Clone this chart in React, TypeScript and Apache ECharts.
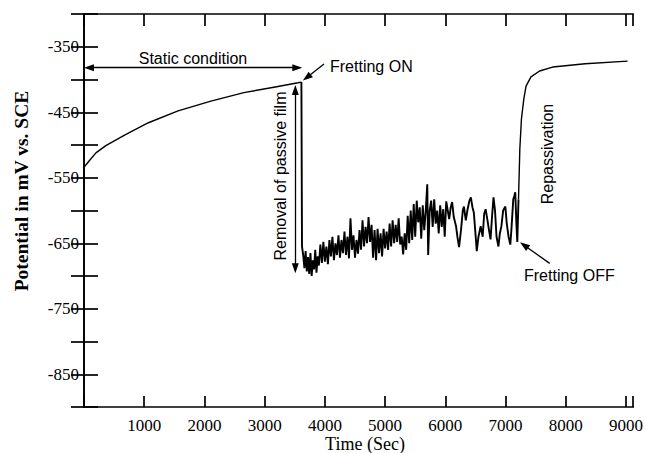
import React, { useEffect, useRef } from 'react';
import * as echarts from 'echarts';

// Static (before fretting)
const staticTime = [0, 88, 198, 362, 689, 1070, 1562, 2107, 2654, 3199, 3554, 3610];
const staticPotential = [-534, -524, -512, -501, -484, -466, -448, -433, -420, -411, -405, -404];

// During fretting
const frettingTime = [
  3620, 3640, 3660, 3680, 3700, 3720, 3740, 3760, 3780, 3800, 3820, 3840, 3860, 3880, 3900, 3925, 3950, 3975,
  4000, 4025, 4050, 4075, 4100, 4125, 4150, 4175, 4200, 4225, 4250, 4275, 4300, 4325, 4350, 4375, 4400, 4425,
  4450, 4475, 4500, 4525, 4550, 4575, 4600, 4625, 4650, 4675, 4700, 4725, 4750, 4775, 4800, 4825, 4850, 4875,
  4900, 4925, 4950, 4975, 5000, 5025, 5050, 5075, 5100, 5125, 5150, 5175, 5200, 5225, 5250, 5275, 5300, 5325,
  5350, 5375, 5400, 5425, 5450, 5475, 5500, 5525, 5550, 5575, 5600, 5625, 5650, 5675, 5700, 5715, 5740, 5765,
  5790, 5815, 5840, 5865, 5890, 5915, 5940, 5965, 5990, 6015, 6040, 6064, 6090, 6113, 6140, 6178, 6200, 6228,
  6260, 6290, 6309, 6340, 6370, 6400, 6424, 6450, 6473, 6500, 6522, 6550, 6587, 6620, 6645, 6669, 6700, 6725,
  6751, 6775, 6800, 6825, 6850, 6882, 6905, 6931, 6960, 6997, 7020, 7050, 7079, 7100, 7128, 7145, 7161, 7180,
  7195,
];
const frettingPotential = [
  -655, -668, -688, -662, -693, -671, -697, -665, -700, -676, -690, -660, -695, -670, -684, -652, -680, -648,
  -678, -655, -682, -645, -670, -640, -676, -650, -668, -638, -672, -645, -665, -632, -668, -640, -673, -612,
  -660, -638, -672, -645, -666, -630, -660, -615, -655, -625, -650, -610, -648, -622, -672, -630, -676, -628,
  -665, -635, -670, -628, -658, -632, -660, -620, -655, -615, -650, -622, -648, -612, -652, -640, -667, -635,
  -660, -608, -650, -600, -645, -590, -640, -585, -618, -595, -643, -592, -630, -600, -560, -668, -600, -585,
  -625, -583, -620, -600, -635, -592, -625, -598, -640, -586, -600, -613, -595, -587, -610, -624, -640, -656,
  -630, -600, -594, -615, -598, -585, -580, -595, -603, -635, -662, -640, -624, -640, -605, -598, -615, -630,
  -644, -610, -580, -600, -640, -655, -635, -624, -600, -594, -620, -640, -652, -625, -583, -578, -572, -620,
  -648,
];

// Repassivation (after fretting off)
const repassTime = [7215, 7237, 7264, 7303, 7340, 7422, 7565, 7782, 8322, 9026];
const repassPotential = [-583, -506, -460, -430, -410, -396, -387, -381, -376, -372];

const serif = 'Liberation Serif';
const sans = 'Liberation Sans';

export default function App() {
  const ref = useRef<HTMLDivElement>(null);

  useEffect(() => {
    const chart = echarts.init(ref.current as HTMLDivElement, null, { renderer: 'svg' });
    const staticData = staticTime.map((t, i) => [t, staticPotential[i]]);
    const frettingData = frettingTime.map((t, i) => [t, frettingPotential[i]]);
    const repassData = repassTime.map((t, i) => [t, repassPotential[i]]);
    const frettingSeg = [staticData[staticData.length - 1], ...frettingData, repassData[0]];

    const axisLine = { show: true, lineStyle: { color: '#000', width: 1.7 } };
    const tri = 'triangle';
    const arrowSize = [7, 10];

    chart.setOption({
      animation: false,
      backgroundColor: '#fff',
      grid: { left: 84, right: 4, top: 14, bottom: 46, containLabel: false },
      xAxis: [
        {
          type: 'value',
          position: 'bottom',
          min: 0,
          max: 9120,
          interval: 1000,
          axisLine,
          axisTick: { show: true, inside: true, length: 11, lineStyle: { color: '#000', width: 1.7 } },
          axisLabel: {
            color: '#000',
            fontFamily: serif,
            fontSize: 17,
            margin: 10,
            formatter: (v: number) => (v > 0 && v % 1000 === 0 ? String(v) : ''),
          },
          splitLine: { show: false },
        },
        {
          type: 'value',
          position: 'top',
          min: 0,
          max: 9120,
          interval: 1000,
          axisLine,
          axisTick: { show: true, inside: true, length: 12, lineStyle: { color: '#000', width: 1.7 } },
          axisLabel: { show: false },
          splitLine: { show: false },
        },
      ],
      yAxis: [
        {
          type: 'value',
          position: 'left',
          min: -900,
          max: -300,
          interval: 50,
          axisLine,
          axisTick: { show: true, inside: true, length: 14, lineStyle: { color: '#000', width: 1.7 } },
          axisLabel: {
            color: '#000',
            fontFamily: serif,
            fontSize: 17,
            margin: 5,
            formatter: (v: number) => ((v + 350) % 100 === 0 ? String(v) : ''),
          },
          splitLine: { show: false },
        },
        {
          type: 'value',
          position: 'right',
          min: -900,
          max: -300,
          interval: 50,
          axisLine,
          axisTick: { show: true, inside: true, length: 13, lineStyle: { color: '#000', width: 1.7 } },
          axisLabel: { show: false },
          splitLine: { show: false },
        },
      ],
      series: [
        {
          type: 'line',
          data: staticData,
          showSymbol: false,
          symbol: 'none',
          lineStyle: { color: '#000', width: 1.4 },
          silent: true,
          markLine: {
            silent: true,
            animation: false,
            label: { show: false },
            lineStyle: { color: '#000', width: 1.3, type: 'solid' },
            symbolSize: arrowSize,
            data: [
              [
                { coord: [82, -382], symbol: tri, symbolSize: arrowSize },
                { coord: [3542, -382], symbol: tri, symbolSize: arrowSize },
              ],
              [
                { coord: [3509, -416], symbol: tri, symbolSize: arrowSize },
                { coord: [3509, -688], symbol: tri, symbolSize: arrowSize },
              ],
              [
                { coord: [3985, -376.5], symbol: 'none' },
                { coord: [3700, -397], symbol: tri, symbolSize: arrowSize },
              ],
              [
                { coord: [7733, -680.7], symbol: 'none' },
                { coord: [7307, -653], symbol: tri, symbolSize: arrowSize },
              ],
            ],
          },
        },
        {
          type: 'line',
          data: frettingSeg,
          showSymbol: false,
          symbol: 'none',
          lineStyle: { color: '#000', width: 1.9 },
          silent: true,
        },
        {
          type: 'line',
          data: repassData,
          showSymbol: false,
          symbol: 'none',
          lineStyle: { color: '#000', width: 1.4 },
          silent: true,
        },
      ],
      graphic: [
        {
          type: 'text',
          x: 193,
          y: 58,
          style: { text: 'Static condition', fontFamily: sans, fontSize: 16, fill: '#000', align: 'center', verticalAlign: 'middle' },
        },
        {
          type: 'text',
          x: 330,
          y: 66,
          style: { text: 'Fretting ON', fontFamily: sans, fontSize: 16, fill: '#000', align: 'left', verticalAlign: 'middle' },
        },
        {
          type: 'text',
          x: 280,
          y: 176,
          rotation: Math.PI / 2,
          style: { text: 'Removal of passive film', fontFamily: sans, fontSize: 16, fill: '#000', align: 'center', verticalAlign: 'middle' },
        },
        {
          type: 'text',
          x: 547,
          y: 154,
          rotation: Math.PI / 2,
          style: { text: 'Repassivation', fontFamily: sans, fontSize: 16, fill: '#000', align: 'center', verticalAlign: 'middle' },
        },
        {
          type: 'text',
          x: 524,
          y: 275,
          style: { text: 'Fretting OFF', fontFamily: sans, fontSize: 16, fill: '#000', align: 'left', verticalAlign: 'middle' },
        },
        {
          type: 'text',
          x: 365,
          y: 444,
          style: { text: 'Time (Sec)', fontFamily: serif, fontSize: 18, fill: '#000', align: 'center', verticalAlign: 'middle' },
        },
        {
          type: 'text',
          x: 21,
          y: 191,
          rotation: Math.PI / 2,
          style: {
            text: 'Potential in mV vs. SCE',
            fontFamily: serif,
            fontWeight: 'bold',
            fontSize: 19.5,
            fill: '#000',
            align: 'center',
            verticalAlign: 'middle',
          },
        },
      ],
    });

    return () => chart.dispose();
  }, []);

  return (
    <div
      ref={ref}
      style={{ position: 'absolute', left: 0, top: 0, width: 646, height: 453, background: '#fff' }}
    />
  );
}
